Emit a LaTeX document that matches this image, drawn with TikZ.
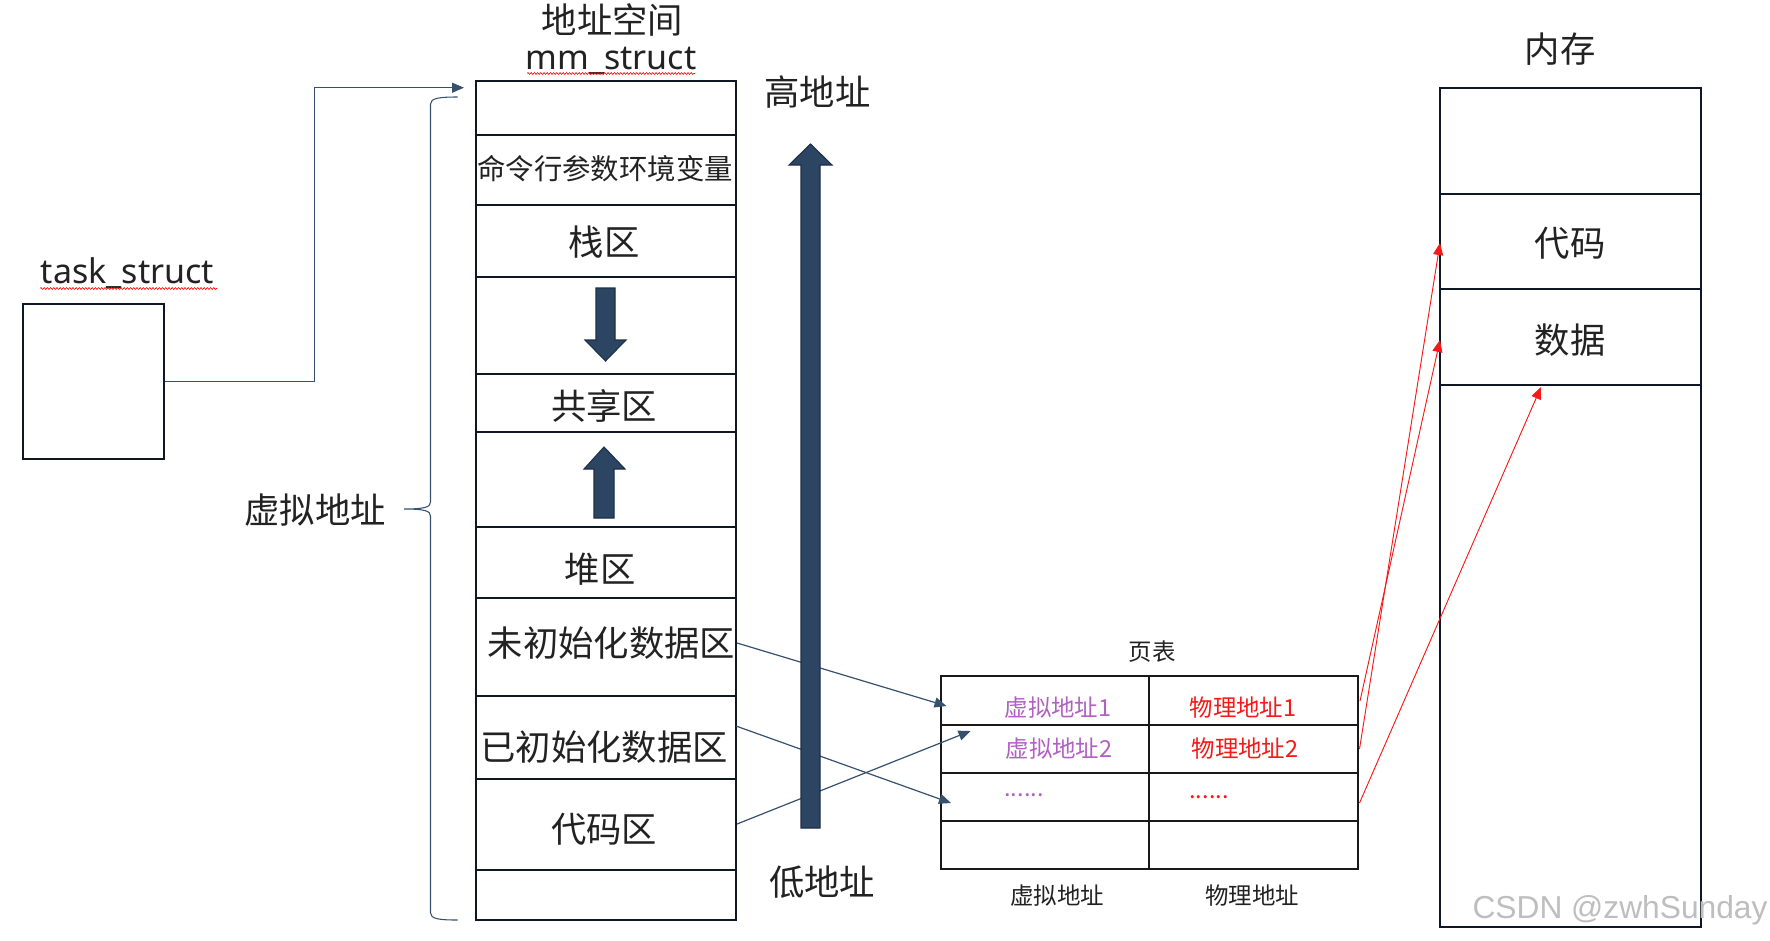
\documentclass[tikz,border=0pt]{standalone}
\usepackage{fontspec}
\setmainfont{Noto Sans CJK SC}
\newfontfamily\latinfont{Noto Sans}
\newfontfamily\wmfont{Liberation Sans}
\usetikzlibrary{arrows.meta,decorations.pathmorphing}
\definecolor{navy}{RGB}{44,69,98}
\definecolor{navydark}{RGB}{30,48,70}
\definecolor{navyline}{RGB}{55,80,110}
\definecolor{frame}{RGB}{14,24,36}
\definecolor{txt}{RGB}{34,34,34}
\definecolor{vpurple}{RGB}{178,96,196}
\definecolor{pred}{RGB}{245,25,25}
\definecolor{wmgray}{RGB}{190,190,190}
\newcommand{\bigzh}{\fontsize{26.5pt}{30pt}\selectfont}
\newcommand{\midzh}{\fontsize{21.3pt}{25pt}\selectfont}
\newcommand{\smallzh}{\fontsize{17.6pt}{20pt}\selectfont}
\newcommand{\latinlbl}{\latinfont\fontsize{25.5pt}{30pt}\selectfont}
\begin{document}
\begin{tikzpicture}[x=0.75pt,y=-0.75pt,
  lbl/.style={inner sep=0pt, text=txt, font=\bigzh},
  tlbl/.style={inner sep=0pt, font=\smallzh},
  colborder/.style={draw=frame, line width=1.3pt},
  thickdiv/.style={draw=frame, line width=2pt},
  thindiv/.style={draw=frame, line width=1.3pt},
  blockarrow/.style={fill=navy, draw=navydark, line width=0.8pt},
  conn/.style={draw=navyline, line width=0.9pt, -{Triangle[length=9pt,width=7.5pt]}},
  redconn/.style={draw=pred, line width=0.7pt, -{Triangle[length=9pt,width=7.5pt]}},
  tbl/.style={draw=black!90, line width=2.2pt},
  squiggle/.style={draw=red, line width=0.45pt, decorate, decoration={snake, amplitude=0.7pt, segment length=2.4pt}}
]
\useasboundingbox (0,0) rectangle (1770,940);
\fill[white] (0,0) rectangle (1770,940);

% ---------- task_struct ----------
\node[inner sep=0pt, text=txt, font=\latinlbl, anchor=base] (tasklbl) at (127.5,283.5) {task\_struct};
\draw[squiggle] (40,288.5) -- (217,288.5);
\node[draw=frame, line width=1.3pt, minimum width=105.75pt, minimum height=116.25pt, inner sep=0pt] (task) at (93.5,381.5) {};

% ---------- mm_struct column ----------
\node[lbl] (astitle) at (612.5,20) {地址空间};
\node[inner sep=0pt, text=txt, font=\latinlbl, anchor=base] (mmlbl) at (611,69.5) {mm\_struct};
\draw[squiggle] (527,73.5) -- (695,73.5);

\draw[colborder, fill=white] (476,81) rectangle (736,920);
\foreach \yy in {135,374,696,779,870} \draw[thindiv] (476,\yy) -- (736,\yy);
\foreach \yy in {205,277,432,527,598} \draw[thickdiv] (476,\yy) -- (736,\yy);

\node[inner sep=0pt, text=txt, font=\midzh] (argv) at (605,169) {命令行参数环境变量};
\node[lbl] (stack) at (604,242) {栈区};
\node[lbl] (shared) at (604,406) {共享区};
\node[lbl] (heap) at (600,569) {堆区};
\node[lbl] (bss) at (611.5,643) {未初始化数据区};
\node[lbl] (data) at (604,747.5) {已初始化数据区};
\node[lbl] (text) at (604,829) {代码区};

% small block arrows
\draw[blockarrow] (596,288) -- (615,288) -- (615,340) -- (626,340) -- (605.5,361) -- (585,340) -- (596,340) -- cycle;
\draw[blockarrow] (594,518) -- (614,518) -- (614,469) -- (625,469) -- (604,447) -- (584,469) -- (594,469) -- cycle;

% brace
\node[lbl] (vaddr) at (315,510) {虚拟地址};
\draw[navyline, line width=0.8pt] (457.5,97) .. controls (440,97) and (430.5,98) .. (430.5,104)
  -- (430.5,502) .. controls (430.5,507) and (425,509) .. (404,509)
  .. controls (425,509) and (430.5,511) .. (430.5,516)
  -- (430.5,913) .. controls (430.5,919) and (440,920) .. (457.5,920);

% task -> mm_struct
\coordinate (mmin) at (464,87.7);
\draw[conn] (task.east) -| (314.6,87.7) -- (mmin);

% ---------- page table ----------
\node[tlbl, text=txt] (pttitle) at (1152,652) {页表};
\draw[tbl] (941,676) rectangle (1358,869);
\foreach \yy in {725,773,821} \draw[tbl] (941,\yy) -- (1358,\yy);
\draw[tbl] (1149,676) -- (1149,869);
\node[tlbl, text=vpurple] (v1) at (1058,708) {虚拟地址1};
\node[tlbl, text=vpurple] (v2) at (1059,749) {虚拟地址2};
\node[tlbl, text=vpurple] (vd) at (1024,795) {......};
\node[tlbl, text=pred] (p1) at (1243,708) {物理地址1};
\node[tlbl, text=pred] (p2) at (1245,749) {物理地址2};
\node[tlbl, text=pred] (pd) at (1209,797) {......};
\node[tlbl, text=txt] (vcol) at (1057,896) {虚拟地址};
\node[tlbl, text=txt] (pcol) at (1252,896) {物理地址};

% navy connectors column -> table (behind big arrow)
\coordinate (bssR) at (737,643);
\coordinate (dataR) at (736,726);
\coordinate (textR) at (737,824);
\coordinate (row1in) at (946.5,706);
\coordinate (row2in) at (970.5,731);
\coordinate (row3in) at (951,803);
\draw[conn] (bssR) -- (row1in);
\draw[conn] (dataR) -- (row3in);
\draw[conn] (textR) -- (row2in);

% big address arrow
\draw[blockarrow] (801,828) -- (820,828) -- (820,165) -- (832,165) -- (810.5,144) -- (789,165) -- (801,165) -- cycle;
\node[lbl] (high) at (817.5,92) {高地址};
\node[lbl] (low) at (822,882) {低地址};

% ---------- memory ----------
\node[lbl] (memtitle) at (1560,49) {内存};
\draw[colborder] (1440,88) rectangle (1701,927);
\draw[thindiv] (1440,194) -- (1701,194);
\draw[thickdiv] (1440,289) -- (1701,289);
\draw[thindiv] (1440,385) -- (1701,385);
\node[lbl] (mcode) at (1570,243) {代码};
\node[lbl] (mdata) at (1570,340) {数据};

% red connectors table -> memory
\coordinate (p1R) at (1360,701);
\coordinate (p2R) at (1359.5,749);
\coordinate (pdR) at (1359.5,803);
\coordinate (mcodeL) at (1440,243);
\coordinate (mdataL) at (1440,340);
\coordinate (mdataB) at (1541,387);
\draw[redconn] (p1R) -- (mdataL);
\draw[redconn] (p2R) -- (mcodeL);
\draw[redconn] (pdR) -- (mdataB);

% watermark
\node[inner sep=0pt, text=wmgray, font=\wmfont\fontsize{23.8pt}{27pt}\selectfont] (wm) at (1620,910) {CSDN @zwhSunday};
\end{tikzpicture}
\end{document}
